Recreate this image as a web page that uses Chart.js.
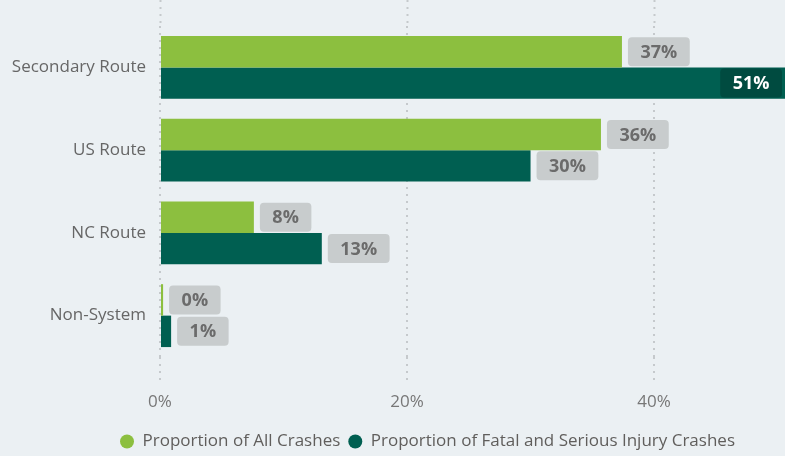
<!DOCTYPE html>
<html>
<head>
<meta charset="utf-8">
<script src="https://cdn.jsdelivr.net/npm/chart.js@4.4.1/dist/chart.umd.min.js"></script>
<style>
  html, body { margin: 0; padding: 0; background: #ebf0f3; }
  #wrap { width: 785px; height: 456px; }
</style>
</head>
<body>
<div id="wrap"><canvas id="crashChart"></canvas></div>
<script>
// Datos del gráfico
const categorias = ['Secondary Route', 'US Route', 'NC Route', 'Non-System'];
const todosChoques = [37.4, 35.7, 7.6, 0.25];
const choquesGraves = [51, 30.0, 13.1, 0.9];
const ticksX = [0, 20, 40];
const nombresSeries = ['Proportion of All Crashes', 'Proportion of Fatal and Serious Injury Crashes'];

const VERDE = '#8cbf3f';
const VERDE_OSCURO = '#005f51';
const GRID = '#c5c9cc';
const FUENTE = "'Open Sans', sans-serif";

// Etiquetas de valor en cajas redondeadas
const etiquetasValor = {
    id: 'etiquetasValor',
    afterLayout(chart) {
        // que las etiquetas del eje Y no se recorten por el padding izquierdo
        chart.scales.y.left = 0;
    },
    afterDatasetsDraw(chart) {
        const { ctx, chartArea } = chart;
        ctx.save();
        ctx.font = `bold 18px ${FUENTE}`;
        ctx.textAlign = 'center';
        ctx.textBaseline = 'middle';
        chart.data.datasets.forEach((ds, i) => {
            const meta = chart.getDatasetMeta(i);
            meta.data.forEach((bar, j) => {
                const texto = Math.round(ds.data[j]) + '%';
                const w = ctx.measureText(texto).width + 25;
                const h = 29;
                let x0 = bar.x + 6;
                let dentro = false;
                if (x0 + w > chartArea.right) {
                    x0 = chartArea.right - w - 3;
                    dentro = true;
                }
                const y0 = bar.y - h / 2;
                ctx.fillStyle = dentro ? '#004b40' : '#c8cccd';
                ctx.beginPath();
                ctx.roundRect(x0, y0, w, h, 4);
                ctx.fill();
                ctx.fillStyle = dentro ? '#ffffff' : '#6b6b6b';
                ctx.fillText(texto, x0 + w / 2, bar.y + 1);
            });
        });
        ctx.restore();
    }
};

new Chart(document.getElementById('crashChart'), {
    type: 'bar',
    data: {
        labels: categorias,
        datasets: [
            {
                label: nombresSeries[0],
                data: todosChoques,
                backgroundColor: VERDE,
                borderWidth: 0
            },
            {
                label: nombresSeries[1],
                data: choquesGraves,
                backgroundColor: VERDE_OSCURO,
                borderWidth: 0
            }
        ]
    },
    options: {
        indexAxis: 'y',
        responsive: true,
        maintainAspectRatio: false,
        animation: false,
        categoryPercentage: 0.76,
        barPercentage: 1,
        layout: { padding: { left: 70, right: 0, top: 0, bottom: -4 } },
        plugins: {
            tooltip: { enabled: false },
            legend: {
                position: 'bottom',
                labels: {
                    usePointStyle: true,
                    pointStyle: 'circle',
                    boxHeight: 10,
                    pointStyleWidth: 14,
                    padding: 8,
                    color: '#605e5c',
                    font: { family: FUENTE, size: 17 }
                }
            }
        },
        scales: {
            x: {
                type: 'linear',
                position: 'bottom',
                min: 0,
                max: 50.6,
                afterBuildTicks: s => { s.ticks = ticksX.map(v => ({ value: v })); },
                afterFit: s => { s.height = 68; },
                ticks: {
                    includeBounds: false,
                    padding: 9,
                    color: '#777777',
                    font: { family: FUENTE, size: 17 },
                    callback: v => v + '%'
                },
                grid: {
                    color: GRID,
                    lineWidth: 2,
                    drawTicks: true,
                    tickLength: 26,
                    tickColor: GRID,
                    tickWidth: 2,
                    tickBorderDash: [2, 5]
                },
                border: { display: false, dash: [2, 5] }
            },
            x2: {
                type: 'linear',
                position: 'top',
                min: 0,
                max: 50.6,
                afterBuildTicks: s => { s.ticks = ticksX.map(v => ({ value: v })); },
                ticks: { display: false },
                grid: {
                    drawOnChartArea: false,
                    drawTicks: true,
                    tickLength: 26,
                    tickColor: GRID,
                    tickWidth: 2,
                    tickBorderDash: [2, 5]
                },
                border: { display: false }
            },
            y: {
                afterFit: s => { s.width = 90; },
                ticks: {
                    padding: 14,
                    color: '#666666',
                    font: { family: FUENTE, size: 17 }
                },
                grid: { display: false, drawTicks: false },
                border: { display: false }
            }
        }
    },
    plugins: [etiquetasValor]
});
</script>
</body>
</html>
